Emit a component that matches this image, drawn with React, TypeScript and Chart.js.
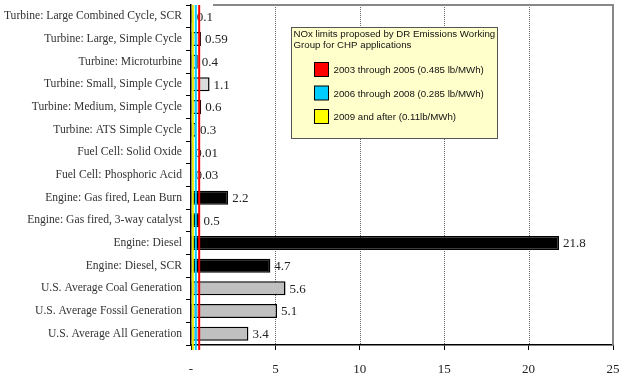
import React, { useEffect, useRef } from "react";
import { Chart, registerables } from "chart.js";

Chart.register(...registerables);

const categories = [
  "Turbine: Large Combined Cycle, SCR",
  "Turbine: Large, Simple Cycle",
  "Turbine: Microturbine",
  "Turbine: Small, Simple Cycle",
  "Turbine: Medium, Simple Cycle",
  "Turbine: ATS Simple Cycle",
  "Fuel Cell: Solid Oxide",
  "Fuel Cell: Phosphoric Acid",
  "Engine: Gas fired, Lean Burn",
  "Engine: Gas fired, 3-way catalyst",
  "Engine: Diesel",
  "Engine: Diesel, SCR",
  "U.S. Average Coal Generation",
  "U.S. Average Fossil Generation",
  "U.S. Average All Generation",
];
const values = [0.1, 0.59, 0.4, 1.1, 0.6, 0.3, 0.01, 0.03, 2.2, 0.5, 21.8, 4.7, 5.6, 5.1, 3.4];
const valueLabels = ["0.1", "0.59", "0.4", "1.1", "0.6", "0.3", "0.01", "0.03", "2.2", "0.5", "21.8", "4.7", "5.6", "5.1", "3.4"];
const barColors = [
  "#dcdcdc", "#dcdcdc", "#dcdcdc", "#dcdcdc", "#dcdcdc", "#dcdcdc",
  "#dcdcdc", "#dcdcdc",
  "#000000", "#000000", "#000000", "#000000",
  "#c0c0c0", "#c0c0c0", "#c0c0c0",
];
const limitLabels = [
  "2003 through 2005 (0.485 lb/MWh)",
  "2006 through 2008 (0.285 lb/MWh)",
  "2009 and after (0.11lb/MWh)",
];
const limitValues = [0.485, 0.285, 0.11];
const limitColors = ["#ff0000", "#00ccff", "#ffff00"];
const legendTitle = ["NOx limits proposed by DR Emissions Working", "Group for CHP applications"];
const xTicks = [0, 5, 10, 15, 20, 25];
const gridValues = [5, 10, 15, 20];

const gridPlugin = {
  id: "gridDots",
  beforeDatasetsDraw(chart: any) {
    const ctx = chart.ctx;
    const xs = chart.scales.x;
    const area = chart.chartArea;
    ctx.save();
    ctx.strokeStyle = "#666";
    ctx.lineWidth = 1;
    ctx.setLineDash([1, 1]);
    gridValues.forEach((v) => {
      const x = Math.round(xs.getPixelForValue(v)) + 0.5;
      ctx.beginPath();
      ctx.moveTo(x, area.top);
      ctx.lineTo(x, area.bottom);
      ctx.stroke();
    });
    ctx.setLineDash([]);
    ctx.strokeStyle = "#888";
    ctx.lineWidth = 2;
    const xr = xs.getPixelForValue(25);
    ctx.beginPath();
    ctx.moveTo(area.left + 22, area.top);
    ctx.lineTo(xr, area.top);
    ctx.lineTo(xr, area.bottom);
    ctx.stroke();
    ctx.restore();
  },
};

const overlayPlugin = {
  id: "overlay",
  afterDatasetsDraw(chart: any) {
    const ctx = chart.ctx;
    const xs = chart.scales.x;
    const area = chart.chartArea;
    const meta = chart.getDatasetMeta(0);
    ctx.save();
    ctx.font = "13px 'Liberation Serif'";
    ctx.fillStyle = "#222";
    ctx.textBaseline = "middle";
    ctx.textAlign = "left";
    meta.data.forEach((bar: any, i: number) => {
      ctx.fillText(valueLabels[i], bar.x + 4, bar.y + 1);
    });
    for (let i = limitValues.length - 1; i >= 0; i--) {
      const x = xs.getPixelForValue(limitValues[i]);
      ctx.strokeStyle = limitColors[i] === "#ffff00" ? "#e8e800" : limitColors[i];
      ctx.lineWidth = 2;
      ctx.beginPath();
      ctx.moveTo(x, area.top);
      ctx.lineTo(x, area.bottom + 5);
      ctx.stroke();
    }
    const bx = 291.5;
    const by = 27.5;
    const bw = 206;
    const bh = 111;
    ctx.fillStyle = "#ffffcc";
    ctx.fillRect(bx, by, bw, bh);
    ctx.strokeStyle = "#555";
    ctx.lineWidth = 1;
    ctx.strokeRect(bx, by, bw, bh);
    ctx.fillStyle = "#111";
    ctx.font = "9.7px 'Liberation Sans'";
    ctx.textBaseline = "middle";
    ctx.fillText(legendTitle[0], bx + 2, by + 7);
    ctx.fillText(legendTitle[1], bx + 2, by + 18);
    limitLabels.forEach((lab, i) => {
      const yy = by + 42 + i * 23.5;
      ctx.fillStyle = limitColors[i];
      ctx.fillRect(bx + 23, yy - 7, 14, 14);
      ctx.strokeStyle = "#000";
      ctx.strokeRect(bx + 23, yy - 7, 14, 14);
      ctx.fillStyle = "#111";
      ctx.fillText(lab, bx + 42, yy + 1);
    });
    ctx.restore();
  },
};

export default function App() {
  const ref = useRef<HTMLCanvasElement>(null);
  useEffect(() => {
    const chart = new Chart(ref.current as HTMLCanvasElement, {
      type: "bar",
      data: {
        labels: categories,
        datasets: [
          {
            data: values,
            backgroundColor: barColors,
            borderColor: "#000",
            borderWidth: 1.5,
            borderSkipped: false,
            barPercentage: 0.62,
            categoryPercentage: 1,
          },
        ],
      },
      options: {
        indexAxis: "y",
        animation: false,
        responsive: false,
        maintainAspectRatio: false,
        layout: { padding: { top: 5, right: 12, left: 0, bottom: 0 } },
        plugins: { legend: { display: false }, tooltip: { enabled: false } },
        scales: {
          x: {
            min: 0,
            max: 25,
            afterFit(s: any) {
              s.height = 33;
              s.paddingLeft = 0;
              s.paddingRight = 0;
            },
            afterBuildTicks(s: any) {
              s.ticks = xTicks.map((v) => ({ value: v }));
            },
            ticks: {
              callback: (v: any) => (Number(v) === 0 ? "-" : String(v)),
              font: { family: "'Liberation Serif'", size: 13 },
              color: "#222",
              padding: 12,
              maxRotation: 0,
            },
            grid: {
              drawOnChartArea: false,
              tickColor: "#000",
              tickLength: 5,
            },
            border: { display: true, color: "#000", width: 1.5 },
          },
          y: {
            afterFit(s: any) {
              s.width = 191;
              s.paddingTop = 0;
              s.paddingBottom = 0;
            },
            ticks: {
              font: { family: "'Liberation Serif'", size: 11.6 },
              color: "#333",
              padding: 4,
              autoSkip: false,
            },
            grid: {
              drawOnChartArea: false,
              tickLength: 5,
              tickColor: "#000",
              offset: true,
            },
            border: { display: true, color: "#000", width: 1.5 },
          },
        },
      },
      plugins: [gridPlugin, overlayPlugin],
    } as any);
    return () => chart.destroy();
  }, []);
  return (
    <div style={{ position: "fixed", left: 0, top: 0, width: 625, height: 378, background: "#fff" }}>
      <canvas ref={ref} width={625} height={378} style={{ width: 625, height: 378 }} />
    </div>
  );
}
